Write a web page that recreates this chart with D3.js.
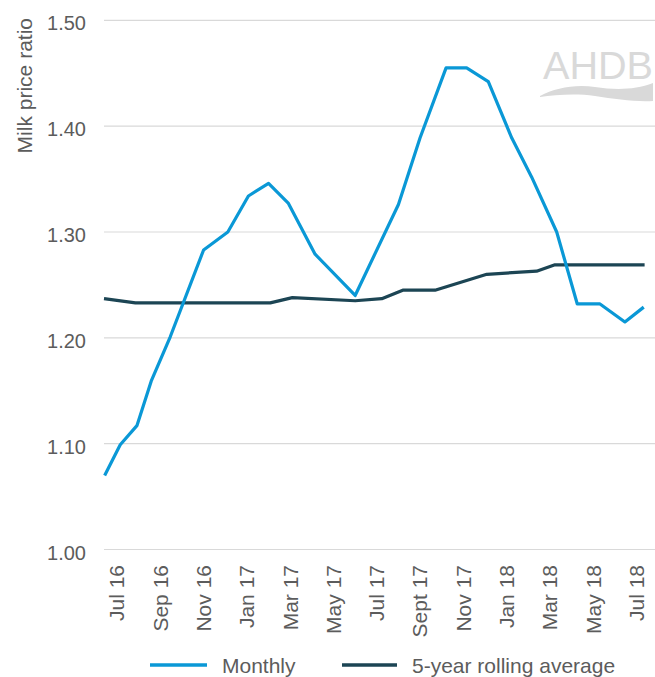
<!DOCTYPE html>
<html>
<head>
<meta charset="utf-8">
<script src="https://cdn.jsdelivr.net/npm/d3@7"></script>
<style>
  html, body { margin: 0; padding: 0; background: #fff; }
  svg { display: block; font-family: "Liberation Sans", Arial, sans-serif; }
</style>
</head>
<body>
<svg id="chart" width="655" height="677"></svg>
<script>
// ---- data (month index: 0 = Jul 2016) ----
const tickMonths = [0, 2, 4, 6, 8, 10, 12, 14, 16, 18, 20, 22, 24];
const tickLabels = ["Jul 16", "Sep 16", "Nov 16", "Jan 17", "Mar 17", "May 17", "Jul 17",
                    "Sept 17", "Nov 17", "Jan 18", "Mar 18", "May 18", "Jul 18"];
const yTicks = [1.00, 1.10, 1.20, 1.30, 1.40, 1.50];

const monthlyX = [-0.57, 0.15, 0.92, 1.58, 2.46, 4.0, 5.12, 6.07, 7.0, 7.92, 9.15, 11.0,
                  13.0, 14.0, 15.2, 16.15, 17.15, 18.23, 19.15, 20.31, 21.26, 22.31, 23.46, 24.33];
const monthlyY = [1.070, 1.099, 1.117, 1.159, 1.201, 1.283, 1.300, 1.334, 1.346, 1.327, 1.279, 1.240,
                  1.326, 1.389, 1.455, 1.455, 1.442, 1.389, 1.352, 1.300, 1.232, 1.232, 1.215, 1.229];

const avgX = [-0.6, 0.85, 7.08, 8.1, 11.0, 12.23, 13.2, 14.69, 17.08, 19.38, 20.23, 24.37];
const avgY = [1.237, 1.233, 1.233, 1.238, 1.235, 1.237, 1.245, 1.245, 1.260, 1.263, 1.269, 1.269];

const seriesNames = ["Monthly", "5-year rolling average"];
const seriesColors = ["#0a98d6", "#1c4554"];

// ---- layout ----
const svg = d3.select("#chart");
const plotLeft = 104, plotRight = 655, plotTop = 20.3, plotBottom = 549.5;
const textColor = "#5c5c5c";

const x = d3.scaleLinear().domain([-0.6, 24.85]).range([plotLeft, plotRight]);
const y = d3.scaleLinear().domain([1.0, 1.5]).range([plotBottom, plotTop]);

// gridlines
svg.append("g").selectAll("line").data(yTicks).join("line")
  .attr("x1", plotLeft).attr("x2", plotRight)
  .attr("y1", d => y(d)).attr("y2", d => y(d))
  .attr("stroke", "#d9d9d9").attr("stroke-width", 1.2);

// y tick labels
svg.append("g").selectAll("text").data(yTicks).join("text")
  .attr("x", 86).attr("y", d => y(d)).attr("dy", "0.5em")
  .attr("text-anchor", "end")
  .attr("font-size", 20).attr("fill", textColor)
  .text(d => d.toFixed(2));

// y title
svg.append("text")
  .attr("transform", "translate(32,18) rotate(-90)")
  .attr("text-anchor", "end")
  .attr("font-size", 21).attr("fill", textColor)
  .text("Milk price ratio");

// x labels
svg.append("g").selectAll("text").data(tickMonths).join("text")
  .attr("transform", d => `translate(${x(d)},565) rotate(-90)`)
  .attr("dy", "0.35em")
  .attr("text-anchor", "end")
  .attr("font-size", 21).attr("fill", textColor)
  .text((d, i) => tickLabels[i]);

// logo
const logo = svg.append("g");
logo.append("text")
  .attr("x", 543).attr("y", 79)
  .attr("font-size", 39).attr("fill", "#d9d9d9")
  .attr("textLength", 110).attr("lengthAdjust", "spacingAndGlyphs")
  .text("AHDB");
logo.append("path")
  .attr("d", "M540,96 C555,88 575,84 595,87 C615,90 635,90 653,83 L653,101 C635,102 615,99 595,96 C575,93 555,95 540,97 Z")
  .attr("fill", "#d9d9d9");

// lines
const line = d3.line().x(d => x(d[0])).y(d => y(d[1]));
const avgData = avgX.map((v, i) => [v, avgY[i]]);
const monthlyData = monthlyX.map((v, i) => [v, monthlyY[i]]);

svg.append("path").datum(avgData)
  .attr("d", line).attr("fill", "none")
  .attr("stroke", seriesColors[1]).attr("stroke-width", 3.2)
  .attr("stroke-linejoin", "round");

svg.append("path").datum(monthlyData)
  .attr("d", line).attr("fill", "none")
  .attr("stroke", seriesColors[0]).attr("stroke-width", 3.2)
  .attr("stroke-linejoin", "round");

// legend
const legendItems = [
  { x1: 150, x2: 207, tx: 222 },
  { x1: 342, x2: 397, tx: 412 }
];
const lg = svg.append("g");
lg.selectAll("line").data(legendItems).join("line")
  .attr("x1", d => d.x1).attr("x2", d => d.x2)
  .attr("y1", 665).attr("y2", 665)
  .attr("stroke", (d, i) => seriesColors[i]).attr("stroke-width", 3.5);
lg.selectAll("text").data(legendItems).join("text")
  .attr("x", d => d.tx).attr("y", 672.5)
  .attr("font-size", 21).attr("fill", textColor)
  .text((d, i) => seriesNames[i]);
</script>
</body>
</html>
